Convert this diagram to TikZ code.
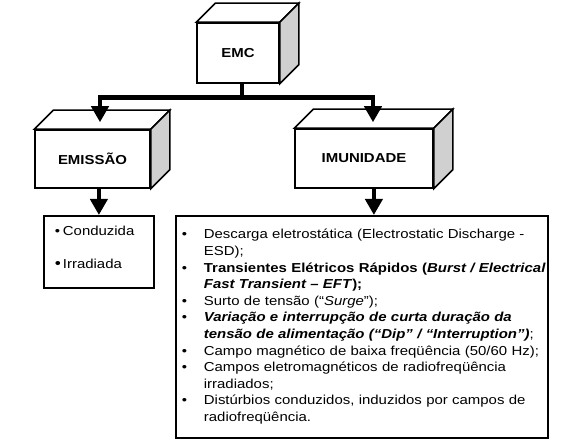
\documentclass[tikz,border=0pt]{standalone}
\usepackage{fontspec}
\setmainfont{Liberation Sans}[FakeStretch=1.15]
\usetikzlibrary{arrows.meta,calc}
\definecolor{sidegray}{RGB}{208,208,208}
\newcommand\boxdepth[1]{%
  \filldraw[face,fill=white] (#1.north west) -- ++(19,-19) -- ($(#1.north east)+(19,-19)$) -- (#1.north east) -- cycle;
  \filldraw[face,fill=sidegray] (#1.north east) -- ++(19,-19) -- ($(#1.south east)+(19,-19)$) -- (#1.south east) -- cycle;}
\newcommand\bul{•}
\begin{document}
\begin{tikzpicture}[x=1pt,y=-1pt,
  face/.style={draw=black,line width=1.5pt,line join=miter},
  front/.style={face,fill=white,inner sep=0pt,font=\fontsize{13}{15}\selectfont\bfseries},
  bus/.style={line width=4.5pt},
  arr/.style={bus,-{Triangle[length=16pt,width=17pt]}},
  listbox/.style={draw=black,line width=1.8pt,fill=white,inner ysep=0pt,align=left}]
\useasboundingbox[fill=white] (0,0) rectangle (587,443);
% boxes
\node[front,minimum width=82pt,minimum height=60pt] (emc) at (238,53) {EMC};
\boxdepth{emc}
\node[front,minimum width=115pt,minimum height=58pt] (emi) at (92.5,159) {EMISSÃO};
\boxdepth{emi}
\node[front,minimum width=138pt,minimum height=59pt] (imu) at (364,158.5) {IMUNIDADE};
\boxdepth{imu}
% lists
\node[listbox,minimum width=110pt,minimum height=72pt,text width=88pt,inner xsep=11pt,
      anchor=north west,font=\fontsize{13}{16}\selectfont] (cond) at (43,215)
  {\begin{tabular}{@{}p{8pt}@{}l@{}}
   \bul & Conduzida\\[16.5pt]
   {\fontsize{15}{16}\selectfont\bul} & Irradiada\\[6pt]
   \end{tabular}};
\node[listbox,minimum width=372pt,minimum height=222pt,text width=360pt,inner xsep=6pt,
      anchor=north west,font=\fontsize{13}{16.6}\selectfont] (list) at (175,215)
  {\begin{tabular}{@{}p{22pt}@{}l@{}}
   \bul & Descarga eletrostática (Electrostatic Discharge -\\
        & ESD);\\
   \bul & \textbf{Transientes Elétricos Rápidos (\textit{Burst / Electrical}}\\
        & \textbf{\textit{Fast Transient – EFT});}\\
   \bul & Surto de tensão (“\textit{Surge}”);\\
   \bul & \textbf{\textit{Variação e interrupção de curta duração da}}\\
        & \textbf{\textit{tensão de alimentação (“Dip” / “Interruption”)}};\\
   \bul & Campo magnético de baixa freqüência (50/60 Hz);\\
   \bul & Campos eletromagnéticos de radiofreqüência\\
        & irradiados;\\
   \bul & Distúrbios conduzidos, induzidos por campos de\\
        & radiofreqüência.
   \end{tabular}};
% connectors
\coordinate (junc) at ($(emc.south)+(4,14)$);
\coordinate (emitop) at ($(emi.north)+(7.5,-7)$);
\coordinate (imutop) at ($(imu.north)+(9,-6)$);
\coordinate (ltop) at ($(list.north)+(12,0)$);
\draw[bus] ($(emc.south)+(4,0)$) -- (junc);
\draw[arr] (junc) -| (emitop);
\draw[arr] (junc) -| (imutop);
\draw[arr] (cond.north |- emi.south) -- (cond.north);
\draw[arr] (imu.south -| ltop) -- (ltop);
\end{tikzpicture}
\end{document}
